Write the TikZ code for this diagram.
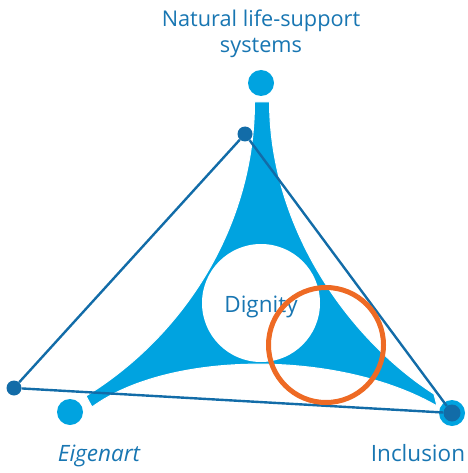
\documentclass[tikz,border=0pt]{standalone}
\usepackage{fontspec}
\setmainfont{Open Sans}
\definecolor{shapeblue}{RGB}{0,163,224}
\definecolor{lineblue}{RGB}{18,108,168}
\definecolor{textblue}{RGB}{24,118,178}
\definecolor{ringorange}{RGB}{238,106,36}
\tikzset{
  bigdot/.style={circle,fill=shapeblue,inner sep=0pt,minimum size=26pt},
  smalldot/.style={circle,fill=lineblue,inner sep=0pt,minimum size=15pt},
  edge/.style={draw=lineblue,line width=2.4pt},
  lbl/.style={text=textblue,font=\fontsize{22.5}{27}\selectfont,inner sep=0pt,anchor=base},
  toplbl/.style={lbl,font=\fontsize{21.7}{26}\selectfont}
}
\begin{document}
\begin{tikzpicture}[x=1pt,y=-1pt]
\useasboundingbox (0,0) rectangle (467,473);
% main blue shape
\fill[shapeblue,draw=white,line width=1pt]
  (254.5,102) -- (269.5,102)
  .. controls (270,230) and (350,340) .. (434,394)
  -- (437,406)
  .. controls (340,350) and (170,350) .. (92,407)
  -- (86,396)
  .. controls (185,335) and (254.5,225) .. (254.5,102) -- cycle;
% circles at the tips
\node[bigdot] (top) at (261,83) {};
\node[bigdot] (eig) at (70,412) {};
\node[bigdot] (inc) at (452,413) {};
% triangle
\node[smalldot] (a) at (245,134) {};
\node[smalldot] (b) at (14,388) {};
\node[smalldot,minimum size=17pt] (c) at (452,413) {};
\draw[edge] (a) -- (b);
\draw[edge] (b) -- (c);
\draw[edge] (a) -- (c);
% Dignity circle
\node[circle,fill=white,minimum size=118pt,inner sep=0pt] (dig) at (261,303) {};
\node[lbl] (digt) at (261,312) {Dignity};
% orange ring
\node[circle,draw=ringorange,line width=5pt,minimum size=115pt,inner sep=0pt] (ring) at (326,345) {};
% labels
\node[toplbl] (tl1) at (261,27) {Natural life-support};
\node[toplbl] (tl2) at (261,53) {systems};
\node[lbl,font=\fontsize{22.5}{27}\selectfont\itshape] (el) at (99,461) {Eigenart};
\node[lbl] (il) at (418,461) {Inclusion};
\end{tikzpicture}
\end{document}
